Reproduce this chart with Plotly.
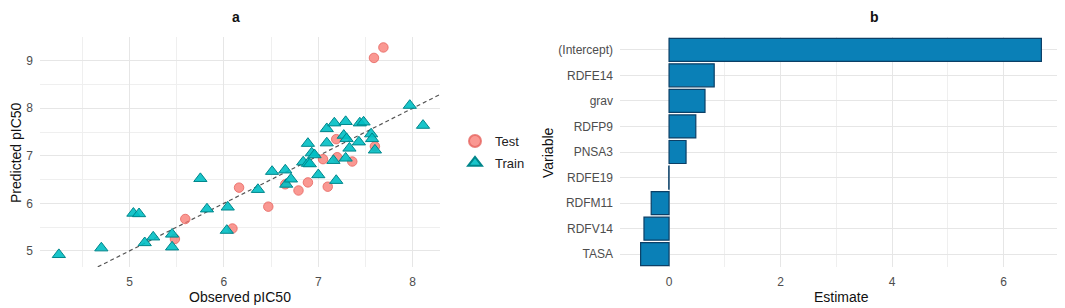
import plotly.graph_objects as go

# ---- Panel a data: observed vs predicted pIC50 ----
train_obs = [4.25, 4.70, 5.04, 5.10, 5.16, 5.25, 5.45, 5.45, 5.75, 5.82, 6.04, 6.03, 6.36, 6.51,
             6.65, 6.66, 6.71, 6.84, 6.89, 6.91, 6.93, 6.96, 6.89, 7.00, 7.09, 7.09, 7.17, 7.29,
             7.16, 7.19, 7.27, 7.30, 7.33, 7.29, 7.43, 7.44, 7.48, 7.56, 7.57, 7.60, 7.97, 8.11]
train_pred = [4.92, 5.06, 5.79, 5.78, 5.17, 5.29, 5.35, 5.08, 6.52, 5.88, 5.92, 5.43, 6.29, 6.67,
              6.70, 6.40, 6.51, 6.87, 6.84, 6.83, 7.06, 7.02, 7.26, 6.60, 7.57, 7.27, 7.69, 7.72,
              6.90, 6.48, 7.43, 7.36, 7.16, 6.95, 7.29, 7.69, 7.71, 7.46, 7.36, 7.12, 8.06, 7.64]
test_obs = [7.69, 7.59, 7.60, 7.19, 7.05, 7.20, 7.36, 6.89, 7.10, 6.79, 6.65, 6.47, 6.16, 6.09, 5.59, 5.48]
test_pred = [9.28, 9.06, 7.20, 7.35, 6.93, 6.97, 6.88, 6.44, 6.35, 6.27, 6.40, 5.93, 6.33, 5.47, 5.67, 5.25]
identity_line = [4.0, 8.4]

# ---- Panel b data: coefficient estimates ----
variables = ["(Intercept)", "RDFE14", "grav", "RDFP9", "PNSA3", "RDFE19", "RDFM11", "RDFV14", "TASA"]
estimates = [6.68, 0.81, 0.645, 0.48, 0.305, -0.005, -0.32, -0.45, -0.51]

FONT = "Liberation Sans, Arial, sans-serif"
TICK = "#4D4D4D"
GRID = "#E6E6E6"
MINOR = "#EFEFEF"

fig = go.Figure()

fig.add_trace(go.Scatter(
    x=identity_line, y=identity_line, mode="lines",
    line=dict(color="#555555", width=1.2, dash="4px,3px"),
    showlegend=False, hoverinfo="skip", xaxis="x", yaxis="y"))

fig.add_trace(go.Scatter(
    x=test_obs, y=test_pred, mode="markers", name="Test", legendgroup="test",
    marker=dict(symbol="circle", size=9.5, color="rgba(248,118,109,0.75)",
                line=dict(color="rgba(230,100,95,0.8)", width=1)),
    xaxis="x", yaxis="y"))

fig.add_trace(go.Scatter(
    x=train_obs, y=train_pred, mode="markers", name="Train", legendgroup="train",
    marker=dict(symbol="triangle-up", size=11.5, color="rgba(0,191,196,0.9)",
                line=dict(color="#00868B", width=1)),
    xaxis="x", yaxis="y"))

fig.add_trace(go.Bar(
    x=estimates, y=variables, orientation="h", width=0.9,
    marker=dict(color="#0A80B7", line=dict(color="#0B3F66", width=1.2)),
    showlegend=False, xaxis="x2", yaxis="y2"))

W, H = 1065, 308
OFF = 8  # page body margin in the browser
def px(x):
    return (x - OFF) / W
def py(y):
    return 1 - (y - OFF) / H

axis_common = dict(showline=False, zeroline=False, ticks="", gridcolor=GRID, gridwidth=1,
                   tickfont=dict(family=FONT, size=12, color=TICK), automargin=False)

fig.update_layout(
    width=W, height=H,
    margin=dict(l=0, r=0, t=0, b=0),
    paper_bgcolor="white", plot_bgcolor="white",
    font=dict(family=FONT),
    xaxis=dict(domain=[px(40), px(440)], range=[4.05, 8.29], dtick=1, tick0=5,
               minor=dict(showgrid=True, dtick=0.5, tick0=4.5, gridcolor=MINOR, gridwidth=1),
               ticklabelstandoff=6, **axis_common),
    yaxis=dict(domain=[py(267), py(37)], range=[4.66, 9.5], dtick=1, tick0=5,
               minor=dict(showgrid=True, dtick=0.5, tick0=4.5, gridcolor=MINOR, gridwidth=1),
               ticklabelstandoff=6, **axis_common),
    xaxis2=dict(domain=[px(620), px(1062)], range=[-0.88, 7.05], dtick=2, tick0=0,
                minor=dict(showgrid=True, dtick=1, tick0=1, gridcolor=MINOR, gridwidth=1),
                anchor="y2", ticklabelstandoff=6, **axis_common),
    yaxis2=dict(domain=[py(267), py(37)], anchor="x2", autorange="reversed",
                categoryorder="array", categoryarray=variables,
                ticklabelstandoff=6, **axis_common),
    legend=dict(x=px(455), y=py(126), xanchor="left", yanchor="top",
                font=dict(family=FONT, size=13, color="#222222"),
                bgcolor="rgba(0,0,0,0)", itemsizing="constant", tracegroupgap=2),
)

ann = [
    dict(text="<b>a</b>", x=px(236), y=py(17), font=dict(size=14, color="#111111")),
    dict(text="<b>b</b>", x=px(874), y=py(17), font=dict(size=14, color="#111111")),
    dict(text="Observed pIC50", x=px(240), y=py(297), font=dict(size=14, color="#111111")),
    dict(text="Estimate", x=px(841), y=py(297), font=dict(size=14, color="#111111")),
    dict(text="Predicted pIC50", x=px(16), y=py(153), textangle=-90, font=dict(size=14, color="#111111")),
    dict(text="Variable", x=px(548), y=py(153), textangle=-90, font=dict(size=14, color="#111111")),
]
for a in ann:
    a.update(xref="paper", yref="paper", showarrow=False, xanchor="center", yanchor="middle")
    a["font"]["family"] = FONT
fig.update_layout(annotations=ann)

fig.write_html("out.html")
